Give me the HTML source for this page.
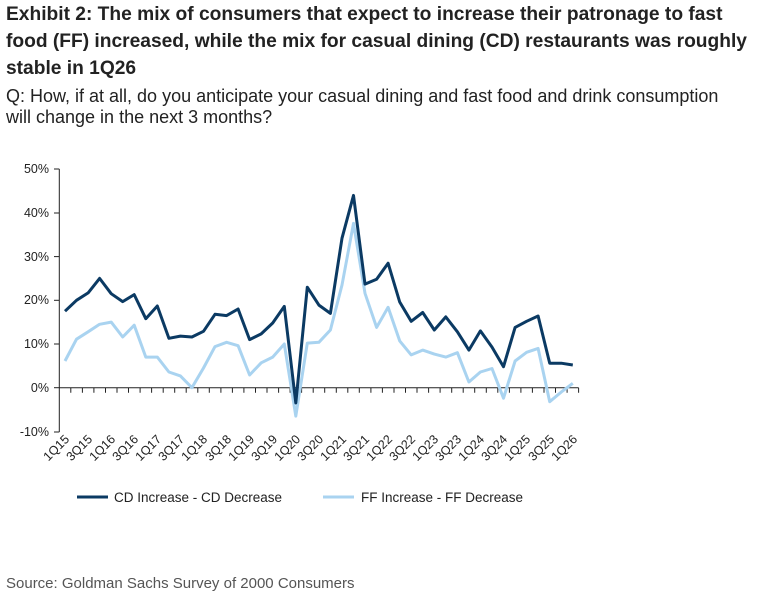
<!DOCTYPE html>
<html><head><meta charset="utf-8"><style>
body{margin:0;background:#fff;width:765px;height:616px;overflow:hidden;font-family:"Liberation Sans",sans-serif}
.t{position:absolute;left:6px;font-weight:bold;font-size:19.2px;color:#222;line-height:27px;top:1px;white-space:nowrap}
.q{position:absolute;left:6px;top:86px;font-size:18px;color:#222;line-height:21px;white-space:nowrap}
.s{position:absolute;left:6px;top:575px;font-size:15px;color:#555}
svg{position:absolute;left:0;top:0}
</style></head><body>
<div class="t">Exhibit 2: The mix of consumers that expect to increase their patronage to fast<br>food (FF) increased, while the mix for casual dining (CD) restaurants was roughly<br>stable in 1Q26</div>
<div class="q">Q: How, if at all, do you anticipate your casual dining and fast food and drink consumption<br>will change in the next 3 months?</div>
<div class="s">Source: Goldman Sachs Survey of 2000 Consumers</div>
<svg width="765" height="616" font-family="Liberation Sans, Arial, sans-serif" font-size="12.5" fill="#222">
<g text-anchor="end">
<text x="49" y="173">50%</text><text x="49" y="217">40%</text><text x="49" y="261">30%</text>
<text x="49" y="304">20%</text><text x="49" y="348">10%</text><text x="49" y="392">0%</text><text x="49" y="436">-10%</text>
</g>
<g stroke="#222" stroke-width="1">
<line x1="59.3" y1="169" x2="59.3" y2="432"/>
<line x1="54" y1="169" x2="59.3" y2="169"/><line x1="54" y1="213" x2="59.3" y2="213"/><line x1="54" y1="256.6" x2="59.3" y2="256.6"/><line x1="54" y1="300.3" x2="59.3" y2="300.3"/><line x1="54" y1="344" x2="59.3" y2="344"/><line x1="54" y1="387.7" x2="59.3" y2="387.7"/><line x1="54" y1="432" x2="59.3" y2="432"/>
<line x1="59.3" y1="387.7" x2="578.6" y2="387.7"/>
<path id="ticks" d=""/>
</g>
<polyline id="ff" fill="none" stroke="#a9d3f0" stroke-width="3" stroke-linejoin="round"/>
<polyline id="cd" fill="none" stroke="#0b3a63" stroke-width="3" stroke-linejoin="round"/>
<g id="lab" font-size="12.5" text-anchor="end">
<text transform="translate(70,440) rotate(-45)">1Q15</text>
<text transform="translate(93,440) rotate(-45)">3Q15</text>
<text transform="translate(116,440) rotate(-45)">1Q16</text>
<text transform="translate(139,440) rotate(-45)">3Q16</text>
<text transform="translate(162,440) rotate(-45)">1Q17</text>
<text transform="translate(185,440) rotate(-45)">3Q17</text>
<text transform="translate(208,440) rotate(-45)">1Q18</text>
<text transform="translate(232,440) rotate(-45)">3Q18</text>
<text transform="translate(255,440) rotate(-45)">1Q19</text>
<text transform="translate(278,440) rotate(-45)">3Q19</text>
<text transform="translate(301,440) rotate(-45)">1Q20</text>
<text transform="translate(324,440) rotate(-45)">3Q20</text>
<text transform="translate(347,440) rotate(-45)">1Q21</text>
<text transform="translate(370,440) rotate(-45)">3Q21</text>
<text transform="translate(393,440) rotate(-45)">1Q22</text>
<text transform="translate(416,440) rotate(-45)">3Q22</text>
<text transform="translate(439,440) rotate(-45)">1Q23</text>
<text transform="translate(462,440) rotate(-45)">3Q23</text>
<text transform="translate(485,440) rotate(-45)">1Q24</text>
<text transform="translate(508,440) rotate(-45)">3Q24</text>
<text transform="translate(531,440) rotate(-45)">1Q25</text>
<text transform="translate(555,440) rotate(-45)">3Q25</text>
<text transform="translate(578,440) rotate(-45)">1Q26</text>
</g>
<line x1="77" y1="497" x2="108" y2="497" stroke="#0b3a63" stroke-width="3"/>
<text x="114" y="502" font-size="13.5">CD Increase - CD Decrease</text>
<line x1="323" y1="497" x2="354" y2="497" stroke="#a9d3f0" stroke-width="3"/>
<text x="361" y="502" font-size="13.5">FF Increase - FF Decrease</text>
</svg>
<script>
var cd=[17.5,20,21.7,25,21.5,19.7,21.3,15.8,18.7,11.3,11.8,11.6,12.9,16.8,16.5,18,11,12.3,14.8,18.6,-3.5,23,18.9,17,34.2,44,23.7,24.8,28.5,19.6,15.2,17.2,13.2,16.2,12.8,8.6,13,9.3,4.8,13.8,15.2,16.4,5.6,5.6,5.2];
var ff=[6.1,11.1,12.8,14.5,15,11.6,14.3,7,7,3.6,2.7,0,4.5,9.4,10.4,9.6,2.9,5.7,7,10,-6.5,10.2,10.4,13.2,23.5,37.6,21.6,13.8,18.4,10.7,7.5,8.6,7.7,7,8,1.3,3.6,4.4,-2.4,6.1,8.1,9,-3.2,-1,1];
function pts(a){return a.map(function(v,i){return (65+i*11.54).toFixed(1)+","+(387.7-v*4.37).toFixed(1)}).join(" ")}
document.getElementById("cd").setAttribute("points",pts(cd));
document.getElementById("ff").setAttribute("points",pts(ff));
var d="";for(var k=1;k<=45;k++){var x=(59.3+k*11.54).toFixed(1);d+="M"+x+" 387.7V392.7";}
document.getElementById("ticks").setAttribute("d",d);
</script>
</body></html>
